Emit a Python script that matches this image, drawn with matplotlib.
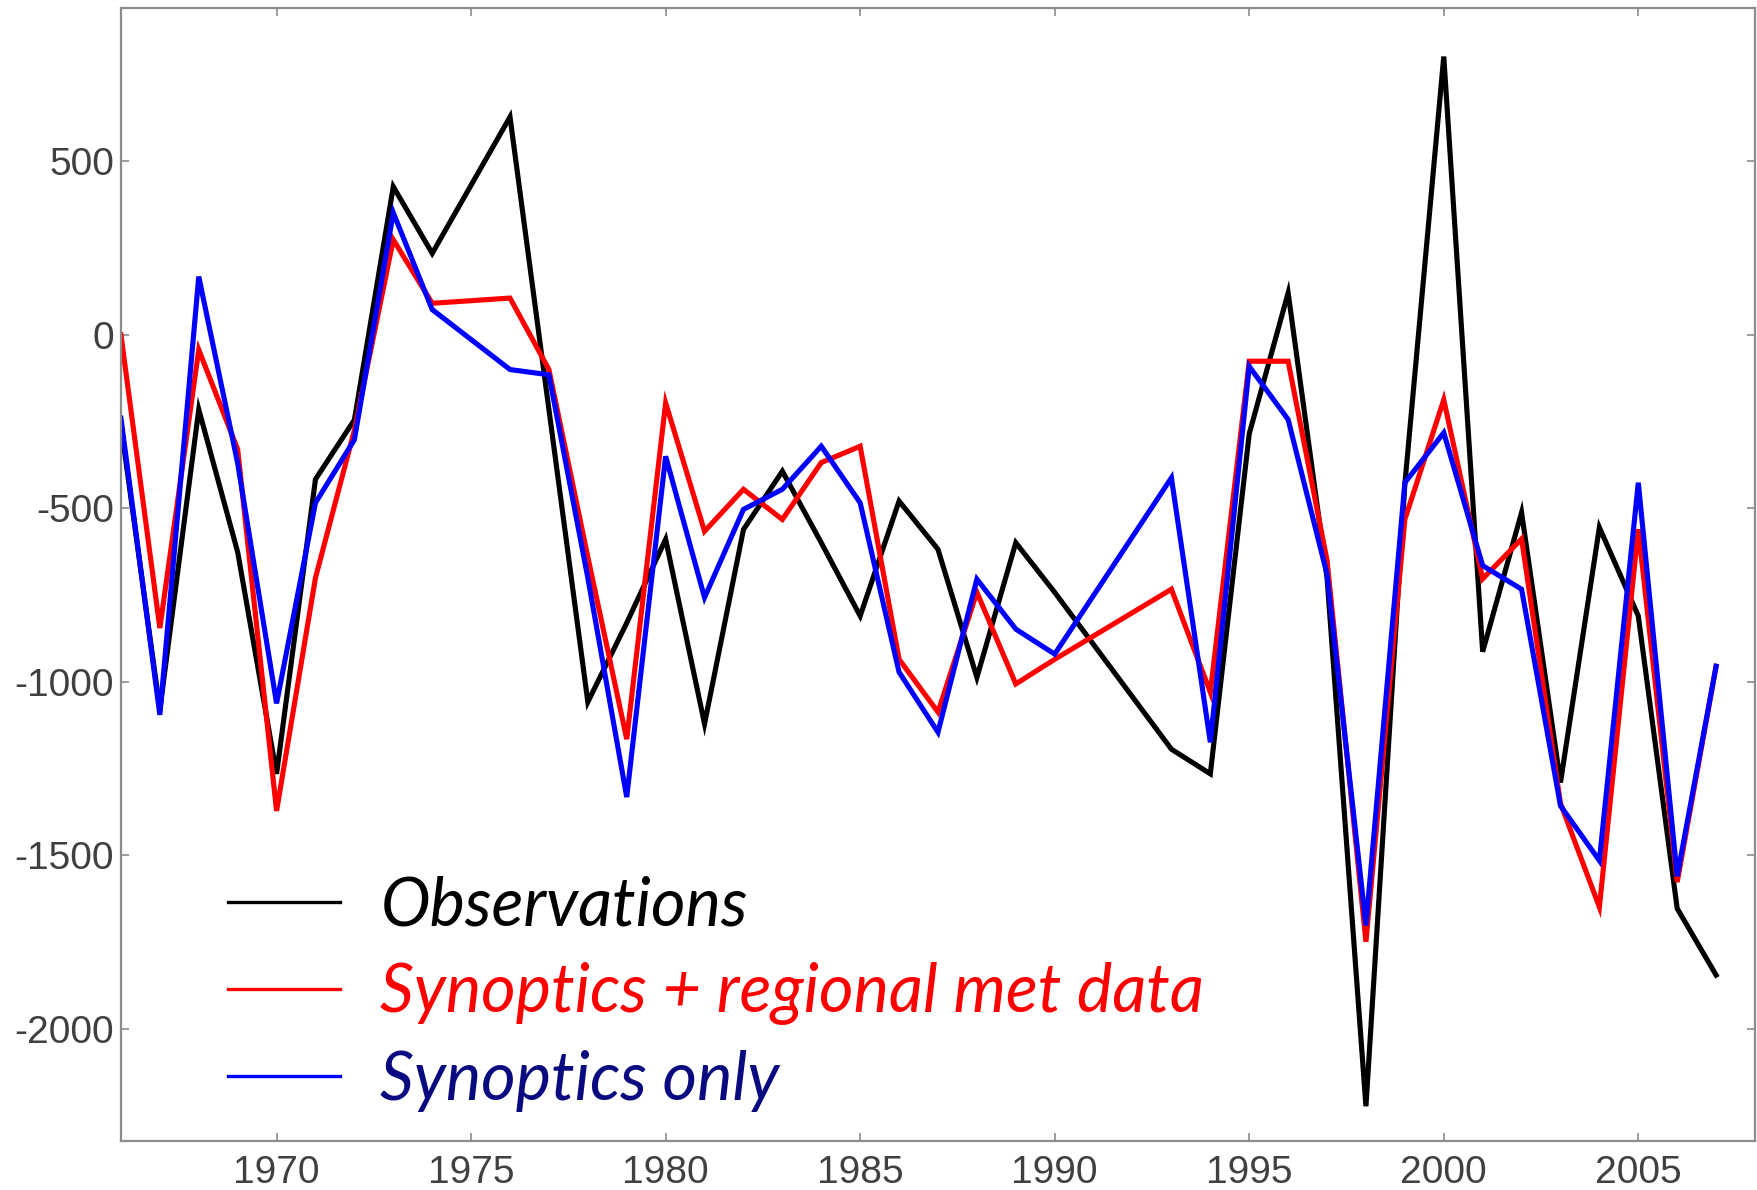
import matplotlib
matplotlib.use("Agg")
import matplotlib.pyplot as plt

plt.rcParams["axes.unicode_minus"] = False

# ============================
# DATOS
# ============================
years = [1966, 1967, 1968, 1969, 1970, 1971, 1972, 1973, 1974, 1976,
         1977, 1978, 1979, 1980, 1981, 1982, 1983, 1984, 1985, 1986,
         1987, 1988, 1989, 1990, 1993, 1994, 1995, 1996, 1997, 1998,
         1999, 2000, 2001, 2002, 2003, 2004, 2005, 2006, 2007]

observations = [-260, -1080, -215, -626, -1265, -416, -245, 427, 235, 628,
                -215, -1058, -830, -589, -1121, -561, -393, -599, -810, -479,
                -618, -987, -599, -742, -1194, -1265, -285, 121, -700, -2223,
                -430, 802, -913, -512, -1290, -555, -810, -1653, -1845]

synoptics_regional = [0, -845, -43, -330, -1372, -700, -275, 274, 91, 106,
                      -100, -640, -1165, -196, -566, -445, -532, -368, -321, -935,
                      -1087, -742, -1006, -935, -733, -1030, -76, -76, -650, -1749,
                      -532, -187, -703, -588, -1350, -1649, -560, -1577, -955]

synoptics_only = [-240, -1095, 168, -370, -1062, -484, -302, 352, 73, -100,
                  -115, -700, -1332, -350, -757, -503, -445, -321, -484, -972,
                  -1145, -704, -848, -920, -412, -1174, -91, -244, -690, -1702,
                  -426, -282, -665, -733, -1357, -1515, -426, -1560, -955]

labels = ["Observations", "Synoptics + regional met data", "Synoptics only"]
line_colors = ["black", "#ff0000", "#0000ff"]
text_colors = ["black", "#ff0000", "#0a0a80"]

x_ticks = [1970, 1975, 1980, 1985, 1990, 1995, 2000, 2005]
y_ticks = [500, 0, -500, -1000, -1500, -2000]

# ============================
# FIGURA
# ============================
fig = plt.figure(figsize=(17.58, 11.90), dpi=100)
ax = fig.add_axes([0.0688, 0.0412, 0.9295, 0.9521])

series = [observations, synoptics_regional, synoptics_only]
lines = []
for vals, col in zip(series, line_colors):
    ln, = ax.plot(years, vals, color=col, lw=3.7, solid_joinstyle="miter")
    lines.append(ln)

ax.set_xlim(1966, 2008)
ax.set_ylim(-2323, 942)
ax.set_xticks(x_ticks)
ax.set_yticks(y_ticks)

for sp in ax.spines.values():
    sp.set_color("#8c8c8c")
    sp.set_linewidth(1.6)

ax.tick_params(direction="in", length=6, width=1.2, color="#8c8c8c",
               top=True, right=True, labelsize=28, labelcolor="#404040")
ax.tick_params(axis="x", pad=10)
ax.tick_params(axis="y", pad=5)
for t in ax.get_xticklabels() + ax.get_yticklabels():
    t.set_family("Liberation Sans")

leg = ax.legend(lines, labels, loc="lower left", bbox_to_anchor=(0.029, -0.027),
                frameon=False, handlelength=1.68, handletextpad=0.6,
                labelspacing=0.37,
                prop={"family": "Lato", "style": "italic", "size": 48},
                labelcolor=text_colors)
for h in leg.legend_handles:
    h.set_linewidth(2.4)

fig.savefig("out.png", dpi=100)
